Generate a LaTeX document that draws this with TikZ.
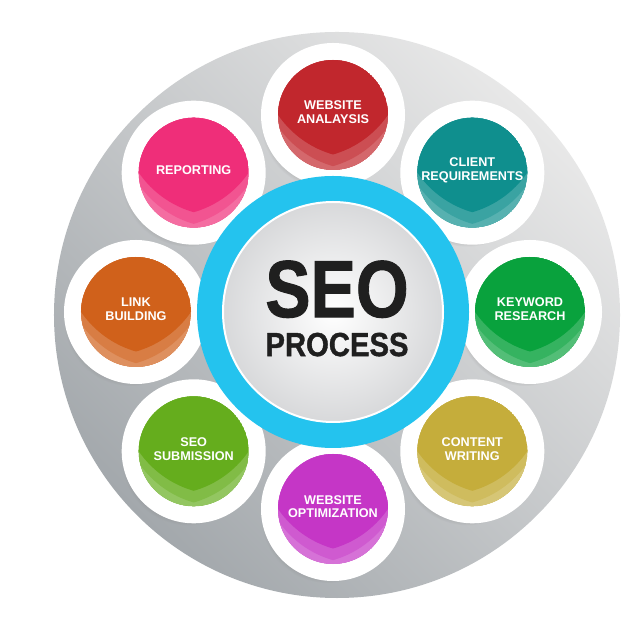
\documentclass[tikz,border=0pt]{standalone}
\usepackage{fontspec}
\setmainfont{Liberation Sans}
\newfontfamily\heavyfont{Liberation Sans}[BoldFeatures={FakeBold=1.2}]
\usepackage{graphicx}
\usetikzlibrary{positioning,shadows,calc}
\definecolor{seoBlue}{HTML}{24C3EE}
\definecolor{seoInk}{HTML}{1F1F1F}
\definecolor{satRed}{HTML}{C1272D}
\definecolor{satTeal}{HTML}{0F8F8E}
\definecolor{satGreen}{HTML}{09A23D}
\definecolor{satOlive}{HTML}{C5AD3B}
\definecolor{satPurple}{HTML}{C536C6}
\definecolor{satLime}{HTML}{65AD1D}
\definecolor{satOrange}{HTML}{D0611B}
\definecolor{satPink}{HTML}{EF2E79}
\definecolor{plateLight}{HTML}{E8E8E8}
\definecolor{plateDark}{HTML}{A3A8AC}
\definecolor{hubGray}{HTML}{D3D4D6}
\tikzset{
  sat/.style={circle, minimum size=25.4mm, inner sep=0pt, draw=white, line width=3.4mm,
    circular drop shadow={shadow xshift=-1mm, shadow yshift=-1.4mm, shadow scale=1.05, opacity=.5}},
  satlabel/.style={text=white, align=center, inner sep=0pt, font=\bfseries\fontsize{7.2}{7.8}\selectfont},
  hub/.style={circle, minimum size=4.92cm, inner sep=0pt, draw=seoBlue, line width=5.2mm,
    inner color=white, outer color=hubGray},
}

\begin{document}
\begin{tikzpicture}
  \useasboundingbox (-6.66,-6.56) rectangle (6.14,6.24);
  \fill[white] (-6.66,-6.56) rectangle (6.14,6.24);
  % grey plate
  \shade[top color=plateLight, bottom color=plateDark, shading angle=-45] (0.08,-0.06) circle (5.66);
  % the eight steps round the hub
  \foreach \ang/\nm/\col/\txt in {
      90/analysis/satRed/{WEBSITE\\ANALAYSIS},
      45/client/satTeal/{CLIENT\\REQUIREMENTS},
      0/keyword/satGreen/{KEYWORD\\RESEARCH},
      -45/content/satOlive/{CONTENT\\WRITING},
      -90/optim/satPurple/{WEBSITE\\OPTIMIZATION},
      -135/submit/satLime/{SEO\\SUBMISSION},
      180/link/satOrange/{LINK\\BUILDING},
      135/report/satPink/{REPORTING}}{
    \node[sat, fill=\col] (\nm) at (\ang:3.94) {};
    \begin{scope}
      \clip (\nm) circle (1.1);
      \fill[\col!70!white] (\nm) circle (1.1);
      \begin{scope}
        \clip ($(\nm)+(0.55,0.9)$) circle (2.0);
        \clip ($(\nm)+(-0.55,0.9)$) circle (2.0);
        \fill[\col!82!white] (\nm) circle (1.1);
      \end{scope}
      \begin{scope}
        \clip ($(\nm)+(0.55,1.133)$) circle (2.0);
        \clip ($(\nm)+(-0.55,1.133)$) circle (2.0);
        \fill[\col] (\nm) circle (1.1);
      \end{scope}
    \end{scope}
    \node[satlabel] (\nm-text) at ($(\nm)+(0,0.05)$) {\txt};
  }
  % centre
  \node[hub] (hub) at (0,0) {};
  \draw[white, line width=0.4mm] (hub.center) circle (2.2);
  \node[text=seoInk, inner sep=0pt, align=center, font=\heavyfont\bfseries\fontsize{19}{22.2}\selectfont] (seo) at (0.08,0.07)
    {{\fontsize{46}{46}\selectfont\scalebox{0.84}[1]{SEO}}\\\scalebox{0.876}[1]{PROCESS}};
\end{tikzpicture}
\end{document}
